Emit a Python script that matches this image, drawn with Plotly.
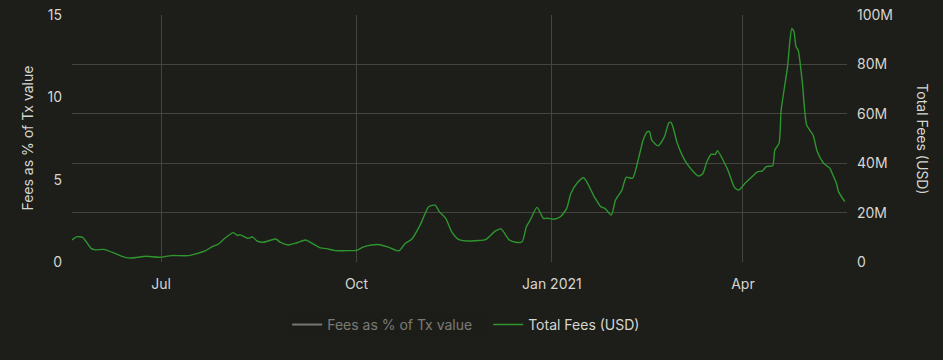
import plotly.graph_objects as go

dates = [
    "2020-05-20", "2020-05-22", "2020-05-25", "2020-05-29", "2020-05-31", "2020-06-04",
    "2020-06-10", "2020-06-14", "2020-06-17", "2020-06-24", "2020-06-30", "2020-07-06",
    "2020-07-14", "2020-07-22", "2020-07-25", "2020-07-28", "2020-07-31", "2020-08-04",
    "2020-08-06", "2020-08-07", "2020-08-11", "2020-08-13", "2020-08-15", "2020-08-18",
    "2020-08-24", "2020-08-26", "2020-08-30", "2020-09-03", "2020-09-07", "2020-09-10",
    "2020-09-14", "2020-09-17", "2020-09-21", "2020-09-26", "2020-10-01", "2020-10-04",
    "2020-10-08", "2020-10-12", "2020-10-16", "2020-10-21", "2020-10-24", "2020-10-27",
    "2020-10-31", "2020-11-04", "2020-11-07", "2020-11-09", "2020-11-12", "2020-11-15",
    "2020-11-18", "2020-11-24", "2020-12-01", "2020-12-05", "2020-12-08", "2020-12-12",
    "2020-12-15", "2020-12-18", "2020-12-20", "2020-12-22", "2020-12-25", "2020-12-28",
    "2020-12-30", "2021-01-02", "2021-01-05", "2021-01-08", "2021-01-10", "2021-01-13",
    "2021-01-16", "2021-01-21", "2021-01-24", "2021-01-26", "2021-01-29", "2021-01-31",
    "2021-02-03", "2021-02-05", "2021-02-08", "2021-02-11", "2021-02-13", "2021-02-15",
    "2021-02-16", "2021-02-17", "2021-02-20", "2021-02-23", "2021-02-25", "2021-02-26",
    "2021-02-27", "2021-03-01", "2021-03-05", "2021-03-08", "2021-03-11", "2021-03-13",
    "2021-03-15", "2021-03-17", "2021-03-19", "2021-03-20", "2021-03-23", "2021-03-25",
    "2021-03-28", "2021-03-30", "2021-04-02", "2021-04-05", "2021-04-08", "2021-04-10",
    "2021-04-12", "2021-04-15", "2021-04-16", "2021-04-18", "2021-04-19", "2021-04-22",
    "2021-04-23", "2021-04-24", "2021-04-25", "2021-04-26", "2021-04-27", "2021-04-29",
    "2021-05-01", "2021-05-04", "2021-05-06", "2021-05-09", "2021-05-12", "2021-05-13",
    "2021-05-15", "2021-05-16", "2021-05-19",
]

total_fees_musd = [
    8.9, 10.2, 10.0, 5.5, 4.9, 5.1,
    3.2, 1.9, 1.6, 2.3, 1.9, 2.6,
    2.6, 4.6, 6.2, 7.3, 9.6, 11.9,
    10.7, 11.1, 9.6, 10.2, 8.6, 8.0,
    9.3, 8.0, 6.9, 7.8, 8.9, 7.6,
    5.7, 5.4, 4.6, 4.6, 4.7, 6.0,
    6.9, 7.0, 6.0, 4.5, 7.6, 9.2,
    15.0, 22.4, 23.0, 20.4, 17.7, 12.0,
    9.2, 8.5, 9.2, 12.3, 13.4, 8.9,
    8.0, 8.2, 14.3, 17.3, 22.1, 17.7,
    17.7, 17.3, 18.3, 21.7, 27.8, 32.1,
    34.1, 26.4, 22.4, 21.7, 19.0, 25.1,
    29.1, 34.3, 33.9, 42.6, 49.4, 52.8,
    52.8, 49.4, 47.0, 50.7, 56.2, 56.6,
    54.8, 48.3, 40.6, 37.2, 34.8, 35.6,
    40.6, 43.6, 43.6, 45.1, 40.6, 37.0,
    30.2, 29.1, 31.9, 34.3, 36.6, 36.8,
    38.6, 39.0, 45.3, 48.1, 61.5, 79.1,
    88.5, 94.6, 93.3, 87.2, 85.8, 72.4,
    55.5, 51.4, 44.7, 40.0, 37.9, 35.9,
    31.9, 28.5, 24.4,
]

# Hidden series (legend only) - its values are not visible in the reference
pct_dates = ["2020-05-20"]
pct_values = [None]

left_ticks = [0, 5, 10, 15]
right_tickvals = [0, 20, 40, 60, 80, 100]
right_ticktext = ["0", "20M", "40M", "60M", "80M", "100M"]
x_tickvals = ["2020-07-01", "2020-10-01", "2021-01-01", "2021-04-01"]
x_ticktext = ["Jul", "Oct", "Jan 2021", "Apr"]

BG = "#1d1d19"
TXT = "#d6d6d0"
GRID = "#45453f"

fig = go.Figure()
fig.add_trace(go.Scatter(
    x=pct_dates, y=pct_values, name="Fees as % of Tx value",
    mode="lines", line=dict(color="#d0d0d0", width=2),
    visible="legendonly", showlegend=True, yaxis="y",
))
fig.add_trace(go.Scatter(
    x=dates, y=total_fees_musd, name="Total Fees (USD)",
    mode="lines", line=dict(color="#2e962e", width=1.4, shape="spline", smoothing=0.6),
    yaxis="y2",
))

fig.update_layout(
    width=943, height=360,
    paper_bgcolor=BG, plot_bgcolor=BG,
    margin=dict(l=72, r=96, t=15, b=98),
    font=dict(family="Inter, Roboto, sans-serif", size=14, color=TXT),
    showlegend=True,
    legend=dict(orientation="h", x=0.537, xanchor="center", y=-0.19, yanchor="top",
                entrywidth=156, entrywidthmode="pixels",
                font=dict(size=14, color=TXT), bgcolor="rgba(0,0,0,0)"),
    xaxis=dict(
        type="date", range=["2020-05-20", "2021-05-20"],
        tickvals=x_tickvals, ticktext=x_ticktext,
        showgrid=True, gridcolor=GRID, gridwidth=1,
        zeroline=False, showline=False, ticks="", ticklabelstandoff=12,
        tickfont=dict(size=14, color=TXT), automargin=False,
    ),
    yaxis=dict(
        range=[0, 15], tickvals=left_ticks, showgrid=False, zeroline=False,
        ticks="", ticklabelstandoff=9, tickfont=dict(size=14, color=TXT), automargin=False,
    ),
    yaxis2=dict(
        range=[0, 100], overlaying="y", side="right",
        tickvals=right_tickvals, ticktext=right_ticktext,
        showgrid=True, gridcolor=GRID, gridwidth=1, zeroline=False,
        ticks="", ticklabelstandoff=9, tickfont=dict(size=14, color=TXT), automargin=False,
    ),
    annotations=[
        dict(text="Fees as % of Tx value", xref="paper", yref="paper",
             x=-0.058, y=0.5, xanchor="center", yanchor="middle", textangle=-90,
             showarrow=False, font=dict(size=14, color=TXT)),
        dict(text="Total Fees (USD)", xref="paper", yref="paper",
             x=1.097, y=0.5, xanchor="center", yanchor="middle", textangle=90,
             showarrow=False, font=dict(size=14, color=TXT)),
    ],
)

fig.write_html("out.html")
